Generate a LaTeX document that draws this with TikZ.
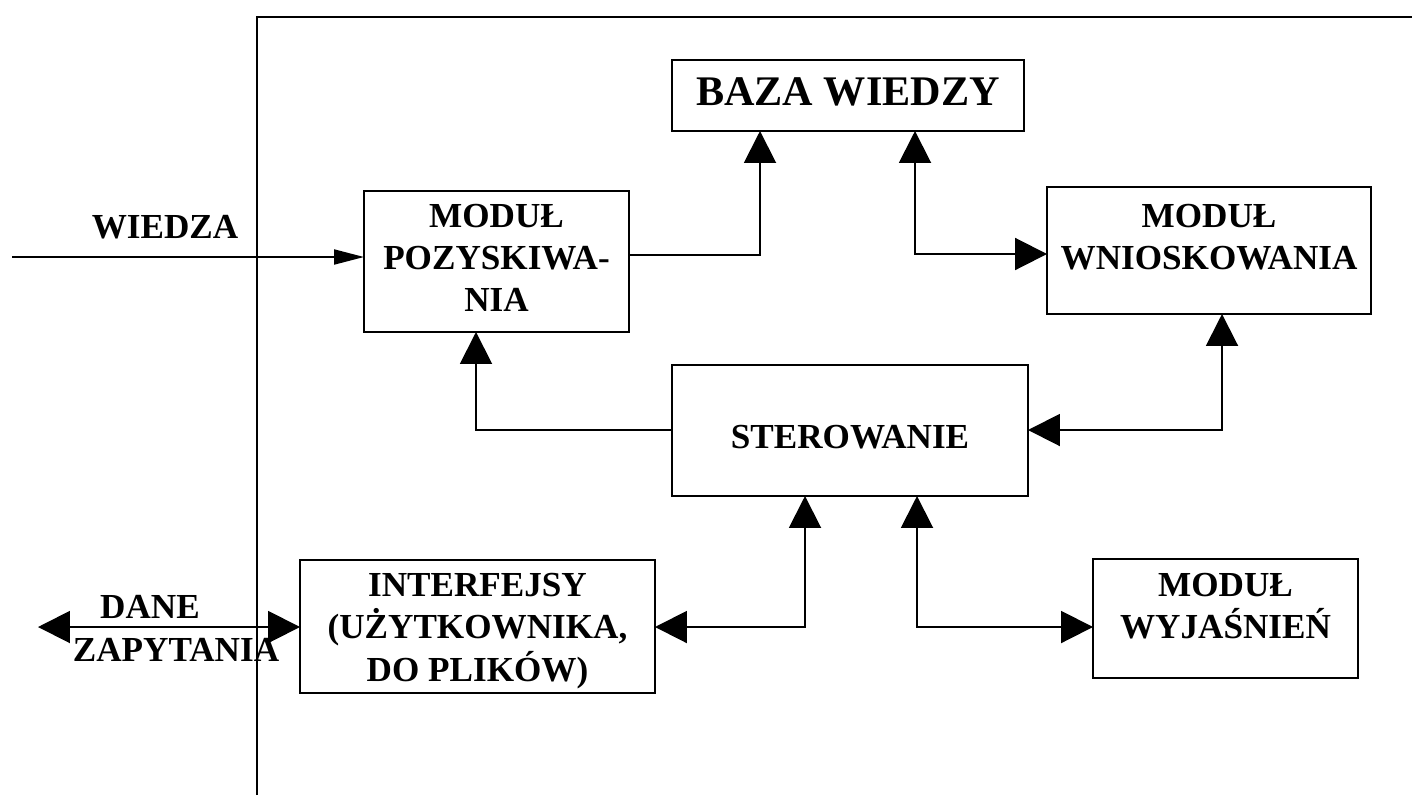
\documentclass[tikz,border=0pt]{standalone}
\usepackage{fontspec}
\setmainfont{Liberation Serif}
\usetikzlibrary{arrows.meta}
\begin{document}
\begin{tikzpicture}[x=0.02cm,y=-0.02cm,
  box/.style={draw, line width=1.2pt, inner sep=0pt, outer sep=0pt},
  txt/.style={font=\bfseries\fontsize{20}{24}\selectfont, align=center, inner sep=0pt},
  bigtxt/.style={font=\bfseries\fontsize{24}{28}\selectfont, align=center, inner sep=0pt},
  conn/.style={line width=1.1pt},
  tipbig/.tip={Triangle[length=0.64cm,width=0.64cm]},
  tipsmall/.tip={Triangle[length=0.6cm,width=0.3cm]},
  one/.style={conn,-tipbig},
  two/.style={conn,tipbig-tipbig},
  frame/.style={line width=0.9pt}
]
\useasboundingbox (0,0) rectangle (1412,795);

% outer frame of the system
\coordinate (fr1) at (257,795);
\coordinate (fr2) at (257,17);
\coordinate (fr3) at (1412,17);
\draw[frame] (fr1) -- (fr2) -- (fr3);

% modules
\node[box, minimum width=7.04cm, minimum height=1.42cm] (baza) at (848,95.5) {};
\node[bigtxt] (bazat) at (848,92) {BAZA WIEDZY};

\node[box, minimum width=5.3cm, minimum height=2.82cm] (poz) at (496.5,261.5) {};
\node[txt] (pozt) at (496.5,258) {MODUŁ\\POZYSKIWA-\\NIA};

\node[box, minimum width=6.48cm, minimum height=2.54cm] (wn) at (1209,250.5) {};
\node[txt] (wnt) at (1209,237) {MODUŁ\\WNIOSKOWANIA};

\node[box, minimum width=7.12cm, minimum height=2.62cm] (ster) at (850,430.5) {};
\node[txt] (stert) at (850,437) {STEROWANIE};

\node[box, minimum width=7.1cm, minimum height=2.66cm] (inter) at (477.5,626.5) {};
\node[txt] (intert) at (477.5,631) {INTERFEJSY\\(UŻYTKOWNIKA,\\DO PLIKÓW)};

\node[box, minimum width=5.3cm, minimum height=2.38cm] (wyj) at (1225.5,618.5) {};
\node[txt] (wyjt) at (1225.5,606) {MODUŁ\\WYJAŚNIEŃ};

% external labels
\node[txt] (wiedza) at (165,227) {WIEDZA};
\node[txt] (dane) at (150,607) {DANE};
\node[txt] (zap) at (176,650) {ZAPYTANIA};

% routing points
\coordinate (wsrc) at (12,257);
\coordinate (c2) at (760,255);
\coordinate (c3) at (915,254);
\coordinate (c4) at (476,430);
\coordinate (c5) at (1222,430);
\coordinate (c6) at (805,627);
\coordinate (c7) at (917,627);
\coordinate (dsrc) at (38,627);

% connectors
\draw[conn,-tipsmall] (wsrc) -- (wsrc -| poz.west);
\draw[one] (poz.east |- c2) -| (c2 |- baza.south);
\draw[two] (c3 |- baza.south) |- (wn.west |- c3);
\draw[one] (ster.west |- c4) -| (c4 |- poz.south);
\draw[two] (ster.east |- c5) -| (c5 |- wn.south);
\draw[two] (inter.east |- c6) -| (c6 |- ster.south);
\draw[two] (c7 |- ster.south) |- (wyj.west |- c7);
\draw[two] (dsrc) -- (dsrc -| inter.west);
\end{tikzpicture}
\end{document}
